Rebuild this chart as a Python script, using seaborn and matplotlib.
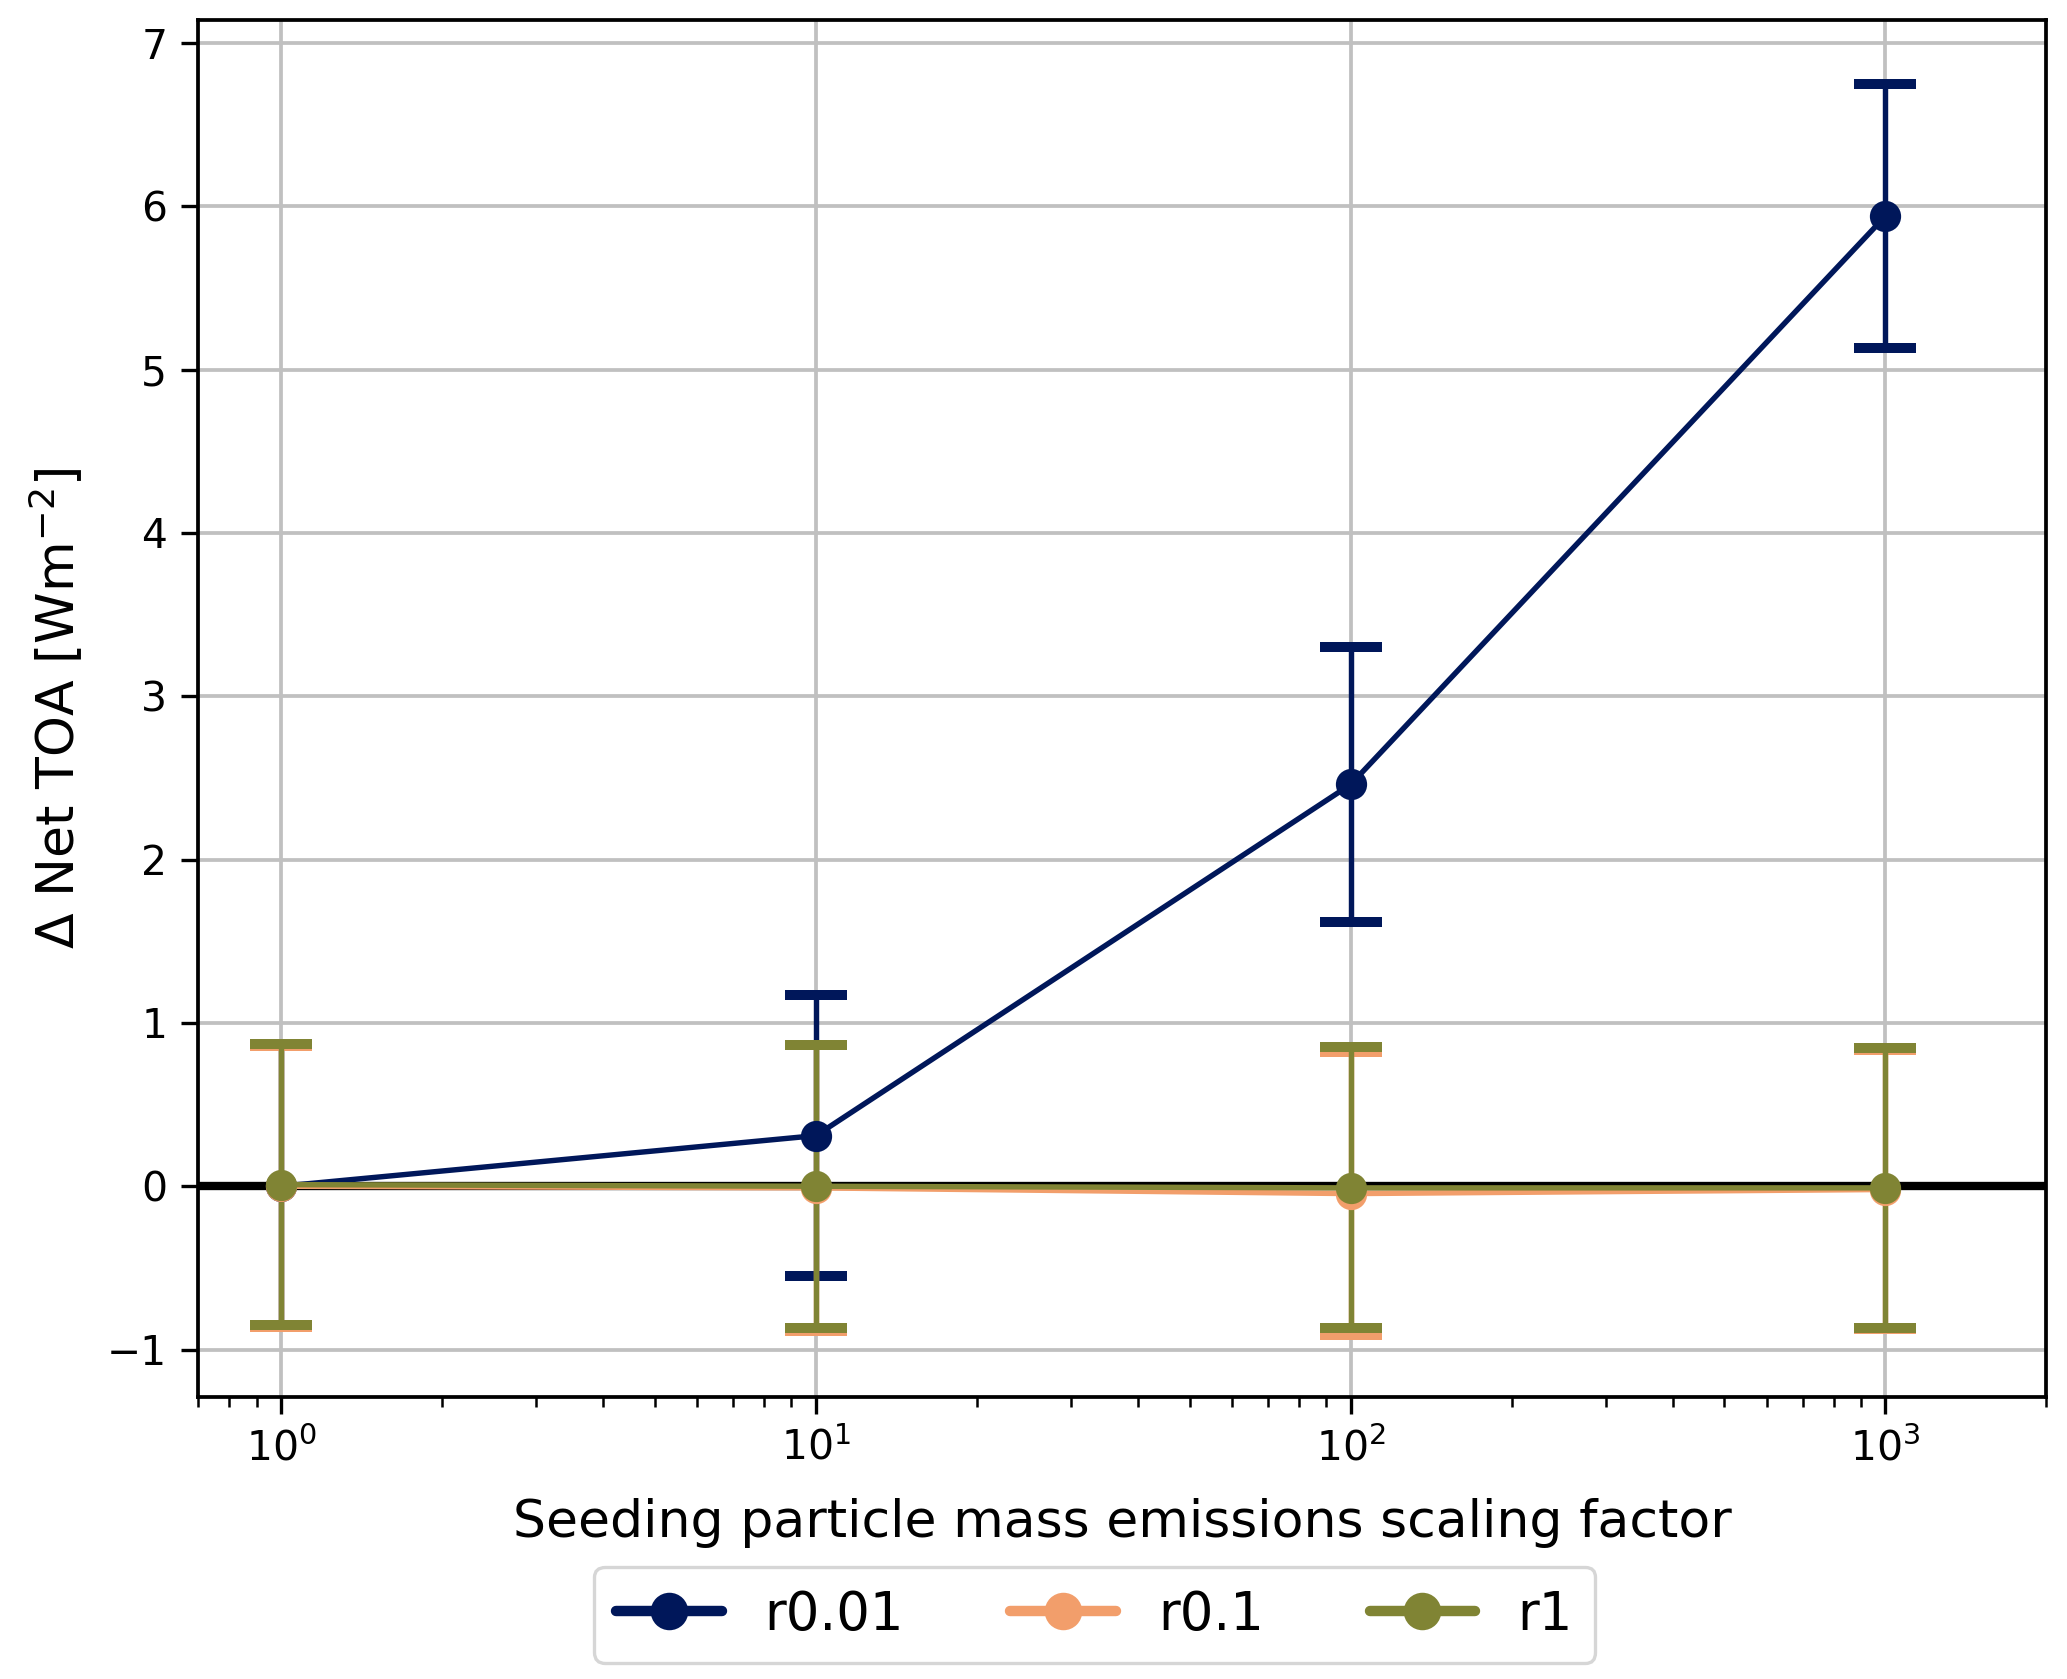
import numpy as np
import pandas as pd
import matplotlib
matplotlib.use("Agg")
import matplotlib.pyplot as plt
import seaborn as sns

sns.set_theme(context="paper", style="ticks")
plt.rcParams['font.family'] = ['DejaVu Sans']
plt.rcParams.update({"text.color": "black", "axes.labelcolor": "black",
                     "xtick.color": "black", "ytick.color": "black"})

scaling = [1, 10, 100, 1000]
runs = ["r0.01", "r0.1", "r1"]
net_toa = {
    "r0.01": [0.00, 0.31, 2.46, 5.94],
    "r0.1": [0.00, -0.01, -0.045, -0.02],
    "r1": [0.01, 0.00, -0.01, -0.01],
}
net_toa_err = {
    "r0.01": [0.86, 0.86, 0.84, 0.81],
    "r0.1": [0.86, 0.875, 0.865, 0.855],
    "r1": [0.86, 0.865, 0.86, 0.855],
}
colors = {"r0.01": "#00175a", "r0.1": "#f29e6b", "r1": "#808434"}

rows = []
for r in runs:
    for s, v, e in zip(scaling, net_toa[r], net_toa_err[r]):
        rows.append({"scaling": s, "run": r, "value": v, "err": e})
df = pd.DataFrame(rows)

fig = plt.figure(figsize=(2067 / 300, 1679 / 300), dpi=300)
ax = fig.add_axes([0.096, 0.168, 0.894, 0.82])

ax.axhline(0, color="black", lw=2.0, zorder=1)

for r in runs:
    sub = df[df["run"] == r]
    ax.errorbar(sub["scaling"], sub["value"], yerr=sub["err"], fmt="none",
                ecolor=colors[r], elinewidth=1.3, capsize=7.5, capthick=2.4, zorder=2)

sns.lineplot(data=df, x="scaling", y="value", hue="run", palette=colors,
             marker="o", markersize=7.5, markeredgewidth=0, linewidth=1.3,
             ax=ax, zorder=3)

ax.set_xscale("log")
ax.set_xlim(0.7, 2000)
ax.set_ylim(-1.29, 7.14)
ax.set_yticks(range(-1, 8))
ax.grid(True, which="major", color="#c0c0c0", lw=0.9)
ax.set_axisbelow(True)
ax.tick_params(axis="both", which="major", labelsize=9.8, length=4, width=0.8, direction="out", pad=3.5)
ax.tick_params(axis="x", which="minor", length=2.5, width=0.6)
for sp in ax.spines.values():
    sp.set_linewidth(0.9)
    sp.set_color("black")

ax.set_xlabel("Seeding particle mass emissions scaling factor", fontsize=12.5, labelpad=7)
ax.set_ylabel(r"$\Delta$ Net TOA [Wm$^{-2}$]", fontsize=12.5, labelpad=5)

leg = ax.legend(loc="upper center", bbox_to_anchor=(0.485, -0.104), ncol=3, fontsize=12.7,
                frameon=True, handlelength=2.0, columnspacing=2.0, handletextpad=0.8,
                borderpad=0.42)
for h in leg.legend_handles:
    h.set_linewidth(2.5)
    h.set_markersize(9)

fig.savefig("out.png", dpi=300)
